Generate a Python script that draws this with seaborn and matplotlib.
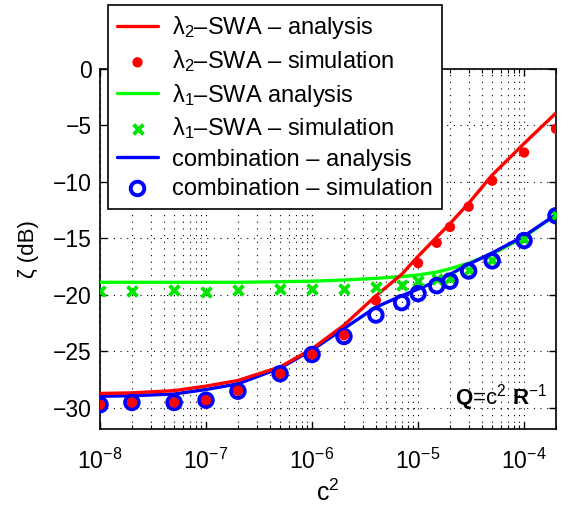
import numpy as np
import pandas as pd
import matplotlib
matplotlib.use("Agg")
import matplotlib.pyplot as plt
import seaborn as sns

# ---- data ----
c2 = [1e-8, 2e-8, 5e-8, 1e-7, 2e-7, 5e-7, 1e-6, 2e-6, 4e-6, 7e-6,
      1e-5, 1.5e-5, 2e-5, 3e-5, 5e-5, 1e-4, 2e-4]
lam2_analysis = [-28.75, -28.7, -28.5, -28.1, -27.6, -26.4, -24.8, -22.7, -20.1, -18.2,
                 -16.6, -14.9, -13.7, -11.9, -9.4, -6.6, -3.9]
c2_lam2_sim = [1e-8, 2e-8, 5e-8, 1e-7, 2e-7, 5e-7, 1e-6, 2e-6, 4e-6,
               1e-5, 1.5e-5, 2e-5, 3e-5, 5e-5, 1e-4, 2e-4]
lam2_sim = [-29.75, -29.55, -29.55, -29.35, -28.5, -27.0, -25.3, -23.6, -20.5,
            -17.2, -15.4, -14.0, -12.2, -9.9, -7.4, -5.3]
lam1_analysis = [-18.9, -18.9, -18.9, -18.9, -18.9, -18.85, -18.8, -18.7, -18.55, -18.4,
                 -18.25, -18.0, -17.7, -17.2, -16.4, -14.9, -12.9]
lam1_sim = [-19.7, -19.7, -19.6, -19.75, -19.6, -19.5, -19.5, -19.5, -19.3, -19.1,
            -18.8, -18.6, -18.5, -17.8, -16.9, -15.1, -12.9]
comb_analysis = [-29.0, -28.95, -28.8, -28.4, -27.9, -26.5, -24.9, -23.0, -21.1, -20.1,
                 -19.5, -18.8, -18.2, -17.3, -16.3, -14.8, -12.9]
comb_sim = [-29.75, -29.55, -29.55, -29.35, -28.55, -27.0, -25.3, -23.7, -21.8, -20.7,
            -19.9, -19.2, -18.8, -17.9, -17.0, -15.2, -13.0]

labels = ["λ$_2$–SWA – analysis", "λ$_2$–SWA – simulation",
          "λ$_1$–SWA analysis", "λ$_1$–SWA – simulation",
          "combination – analysis", "combination – simulation"]
yticks = [0, -5, -10, -15, -20, -25, -30]
xticks = [1e-8, 1e-7, 1e-6, 1e-5, 1e-4]

# ---- style ----
sns.set_style("ticks")
plt.rcParams["font.family"] = ["Liberation Sans", "DejaVu Sans"]
plt.rcParams["mathtext.fontset"] = "custom"
plt.rcParams["mathtext.rm"] = "Liberation Sans"
plt.rcParams["mathtext.it"] = "Liberation Sans:italic"
plt.rcParams["mathtext.bf"] = "Liberation Sans:bold"
plt.rcParams["axes.unicode_minus"] = True
for k in ["text.color", "axes.labelcolor", "xtick.color", "ytick.color",
          "xtick.labelcolor", "ytick.labelcolor", "axes.edgecolor"]:
    plt.rcParams[k] = "black"

fig = plt.figure(figsize=(5.71, 5.05), dpi=100)
ax = fig.add_axes([100/571, 1-429/505, 456/571, 360/505])
ax.set_xscale("log")

df_a = pd.DataFrame({"c2": c2, "l2": lam2_analysis, "l1": lam1_analysis, "cb": comb_analysis,
                     "l1s": lam1_sim, "cbs": comb_sim})
df_s2 = pd.DataFrame({"c2": c2_lam2_sim, "l2s": lam2_sim})

sns.lineplot(data=df_a, x="c2", y="l1", color=(0, 1, 0), lw=2.4, estimator=None,
             label=labels[2], ax=ax, zorder=3)
sns.lineplot(data=df_a, x="c2", y="cb", color=(0, 0, 1), lw=2.4, estimator=None,
             label=labels[4], ax=ax, zorder=3)
sns.lineplot(data=df_a, x="c2", y="l2", color=(1, 0, 0), lw=2.4, estimator=None,
             label=labels[0], ax=ax, zorder=3)
sns.scatterplot(data=df_a, x="c2", y="l1s", marker="x", s=50, color=(0, 0.9, 0),
                linewidth=2.8, label=labels[3], ax=ax, zorder=4)
sns.scatterplot(data=df_a, x="c2", y="cbs", marker="o", s=95, facecolor="none",
                edgecolor=(0, 0, 1), linewidth=2.8, label=labels[5], ax=ax, zorder=4)
sns.scatterplot(data=df_s2, x="c2", y="l2s", marker="o", s=55, color=(1, 0, 0),
                edgecolor="none", linewidth=0, label=labels[1], ax=ax, zorder=5)

ax.set_xlim(1e-8, 2e-4)
ax.set_ylim(-31.9, 0)
ax.set_yticks(yticks)
ax.set_xticks(xticks)
ax.tick_params(axis="both", which="both", direction="in", top=True, right=True,
               color="black", labelcolor="black")
ax.tick_params(axis="y", labelsize=16.5, pad=6)
ax.tick_params(axis="x", labelsize=16.5, pad=14)
ax.tick_params(which="major", length=5, width=1)
ax.tick_params(which="minor", length=3, width=0.8)
ax.grid(True, which="major", axis="both", color="k", lw=0.8, ls=(0, (1, 5)))
ax.grid(True, which="minor", axis="x", color="k", lw=0.8, ls=(0, (1, 5)))
for sp in ax.spines.values():
    sp.set_linewidth(1.2)
    sp.set_color("k")

ax.set_xlabel("c$^2$", fontsize=18, labelpad=4, color="black")
ax.set_ylabel("ζ (dB)", fontsize=16, labelpad=10, color="black")

ax.text(0.98, 0.067, r"$\mathbf{Q}$=c$^2$ $\mathbf{R}^{-1}$", transform=ax.transAxes,
        ha="right", va="baseline", fontsize=16, color="black")

h, l = ax.get_legend_handles_labels()
order = [l.index(s) for s in labels]
leg = ax.legend([h[i] for i in order], [l[i] for i in order],
                loc="upper left", bbox_to_anchor=(108/571, 1-5/505),
                bbox_transform=fig.transFigure, borderaxespad=0, fontsize=17,
                frameon=True, fancybox=False, framealpha=1, edgecolor="k",
                handlelength=1.7, handletextpad=0.6, labelspacing=0.3, borderpad=0.4)
leg.get_frame().set_linewidth(1.2)
for t in leg.get_texts():
    t.set_color("black")
leg.set_zorder(10)

fig.savefig("out.png", dpi=100)
